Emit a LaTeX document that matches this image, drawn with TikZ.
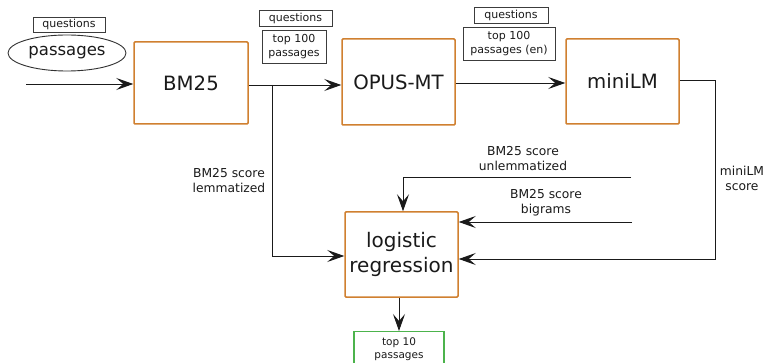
\documentclass[tikz,border=0pt]{standalone}
\usepackage{fontspec}
\setmainfont{DejaVu Sans}
\usetikzlibrary{arrows.meta,shapes.geometric}
\definecolor{boxorange}{HTML}{D08030}
\definecolor{boxgreen}{HTML}{4CB34C}
\definecolor{txt}{HTML}{1A1A1A}
\tikzset{
  x=1pt,y=-1pt,
  every node/.style={text=txt,inner sep=0pt,font=\fontsize{12.3}{15}\selectfont},
  bigbox/.style={draw=boxorange,line width=1.5pt,rectangle,rounded corners=1pt,align=center},
  bigtext/.style={font=\fontsize{19.7}{24}\selectfont},
  smallbox/.style={draw=txt!85,line width=0.9pt,rectangle,align=center,font=\fontsize{11}{14}\selectfont},
  lbl/.style={align=center,font=\fontsize{12.3}{15}\selectfont},
  conn/.style={draw=txt,line width=0.9pt},
  arr/.style={conn,-{Stealth[length=17pt,width=12pt,inset=7pt]}},
}
\begin{document}
\begin{tikzpicture}
\clip (0,0) rectangle (768,363);
\fill[white] (0,0) rectangle (768,363);
% input
\node[smallbox,minimum width=72pt,minimum height=15pt] (q1) at (69,24.5) {questions};
\node[draw=txt!90,line width=0.9pt,ellipse,minimum width=118pt,minimum height=36pt,font=\fontsize{16.5}{20}\selectfont] (pass) at (67,53) {passages};
\coordinate (in) at (26,84);
% main boxes
\node[bigbox,bigtext,minimum width=114pt,minimum height=82pt] (bm25) at (191,83) {BM25};
\node[bigbox,bigtext,minimum width=113pt,minimum height=86pt] (opus) at (398.5,82) {OPUS-MT};
\node[bigbox,bigtext,minimum width=113pt,minimum height=85pt] (minilm) at (622.5,81.5) {miniLM};
\node[bigbox,minimum width=113pt,minimum height=85pt,font=\fontsize{20}{25}\selectfont] (logit) at (401.5,254.5) {logistic\\regression};
\node[draw=boxgreen,line width=1.1pt,rectangle,align=center,minimum width=90pt,minimum height=46pt,anchor=north,font=\fontsize{10.5}{13}\selectfont,text depth=12pt] (top10) at (399,331) {top 10\\passages};
% small annotation boxes
\node[smallbox,minimum width=73pt,minimum height=16pt] (q2) at (295.5,18) {questions};
\node[smallbox,minimum width=64pt,minimum height=33pt] (t100) at (294,46.5) {top 100\\passages};
\node[smallbox,minimum width=74pt,minimum height=16pt] (q3) at (511,15) {questions};
\node[smallbox,minimum width=92pt,minimum height=33pt] (t100en) at (509,43.5) {top 100\\passages (en)};
% labels
\node[lbl] (llem) at (229,181) {BM25 score\\lemmatized};
\node[lbl] (lunl) at (523,158.5) {BM25 score\\unlemmatized};
\node[lbl] (lbig) at (546,203) {BM25 score\\bigrams};
\node[lbl] (lmini) at (742,178.5) {miniLM\\score};
% coordinates
\coordinate (br) at (272,85);
\coordinate (mr1) at (715,80);
\coordinate (mr2) at (715,259);
\coordinate (u1) at (631,177);
\coordinate (u2) at (403,177);
\coordinate (b1) at (632,222);
% connectors
\draw[arr] (in) -- (in -| bm25.west);
\draw[arr] (bm25.east |- br) -- (br -| opus.west);
\draw[conn] (br) -- (272,256) coordinate (bl);
\draw[arr] (bl) -- (bl -| logit.west);
\draw[arr] (opus.east |- 0,83) -- (minilm.west |- 0,83);
\draw[arr] (minilm.east |- mr1) -- (mr1) -- (mr2) -- (mr2 -| logit.east);
\draw[arr] (u1) -- (u2) -- (u2 |- logit.north);
\draw[arr] (b1) -- (b1 -| logit.east);
\draw[arr] (logit.south -| 399,0) -- (top10.north);
\end{tikzpicture}
\end{document}
